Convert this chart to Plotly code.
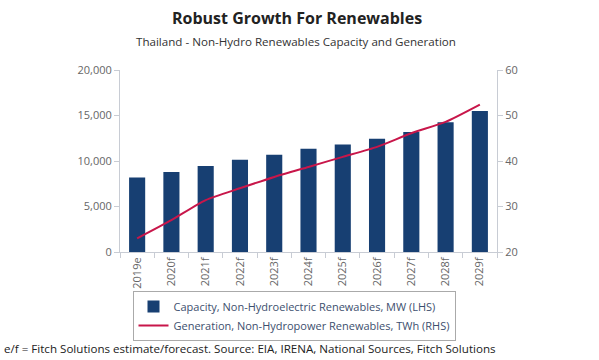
import plotly.graph_objects as go

categories = ["2019e", "2020f", "2021f", "2022f", "2023f", "2024f", "2025f", "2026f", "2027f", "2028f", "2029f"]
capacity_mw = [8200, 8800, 9450, 10150, 10700, 11350, 11800, 12450, 13200, 14250, 15500]
generation_twh = [23.0, 27.0, 31.4, 34.0, 36.5, 38.7, 40.9, 43.1, 46.1, 48.6, 52.4]

bar_name = "Capacity, Non-Hydroelectric Renewables, MW (LHS)"
line_name = "Generation, Non-Hydropower Renewables, TWh (RHS)"

BAR = "#173f72"
LINE = "#c8164a"
FONT = "Open Sans"
GRAY = "#666666"
AXIS = "#c8ccd4"

W, H = 599, 360
ML, MR, MT, MB = 120, 102, 70, 108
PW, PH = W - ML - MR, H - MT - MB

fig = go.Figure()
fig.add_trace(go.Bar(x=categories, y=capacity_mw, name=bar_name, marker=dict(color=BAR, line=dict(width=0)),
                     width=0.47, yaxis="y"))
fig.add_trace(go.Scatter(x=categories, y=generation_twh, name=line_name, mode="lines",
                         line=dict(color=LINE, width=2, shape="spline", smoothing=0.6), yaxis="y2"))

fig.update_layout(
    width=W, height=H,
    margin=dict(l=ML, r=MR, t=MT, b=MB, autoexpand=False),
    paper_bgcolor="white", plot_bgcolor="white",
    font=dict(family=FONT, color=GRAY, size=11),
    showlegend=True,
    legend=dict(x=294 / W, y=1 - 291 / H, xanchor="center", yanchor="top", xref="container", yref="container",
                bordercolor="#aaaaaa", borderwidth=1, bgcolor="white",
                font=dict(family=FONT, size=11, color="#3d4f6e"), tracegroupgap=0, itemwidth=30),
    xaxis=dict(
        type="category", showgrid=False, showline=True, linecolor=AXIS, linewidth=1,
        tickangle=-90, ticks="outside", tickcolor=AXIS, ticklen=5, tickson="boundaries",
        tickfont=dict(family=FONT, size=11, color=GRAY), range=[-0.5, 10.5],
    ),
    yaxis=dict(
        range=[0, 20000], tickvals=[0, 5000, 10000, 15000, 20000], tickformat=",",
        showgrid=False, showline=True, linecolor=AXIS, linewidth=1, ticks="outside",
        tickcolor=AXIS, ticklen=5, zeroline=False,
        tickfont=dict(family=FONT, size=11, color=GRAY),
    ),
    yaxis2=dict(
        range=[20, 60], tickvals=[20, 30, 40, 50, 60], overlaying="y", side="right",
        showgrid=False, showline=True, linecolor=AXIS, linewidth=1, ticks="outside",
        tickcolor=AXIS, ticklen=5, zeroline=False,
        tickfont=dict(family=FONT, size=11, color=GRAY),
    ),
    annotations=[
        dict(text="<b>Robust Growth For Renewables</b>", x=(297 - ML) / PW, y=1 + (MT - 18) / PH,
             xref="paper", yref="paper", xanchor="center", yanchor="middle", showarrow=False,
             font=dict(family=FONT, size=16, color="#222222")),
        dict(text="Thailand - Non-Hydro Renewables Capacity and Generation", x=(296 - ML) / PW,
             y=1 + (MT - 41) / PH, xref="paper", yref="paper", xanchor="center", yanchor="middle",
             showarrow=False, font=dict(family=FONT, size=11.6, color="#333333")),
        dict(text="e/f = Fitch Solutions estimate/forecast. Source: EIA, IRENA, National Sources, Fitch Solutions",
             x=(2 - ML) / PW, y=-(348 - (MT + PH)) / PH, xref="paper", yref="paper",
             xanchor="left", yanchor="middle", showarrow=False,
             font=dict(family=FONT, size=11.6, color="#222222")),
    ],
)

fig.write_html("out.html", config={"displayModeBar": False},
               post_script="document.body.style.margin='0px';")
